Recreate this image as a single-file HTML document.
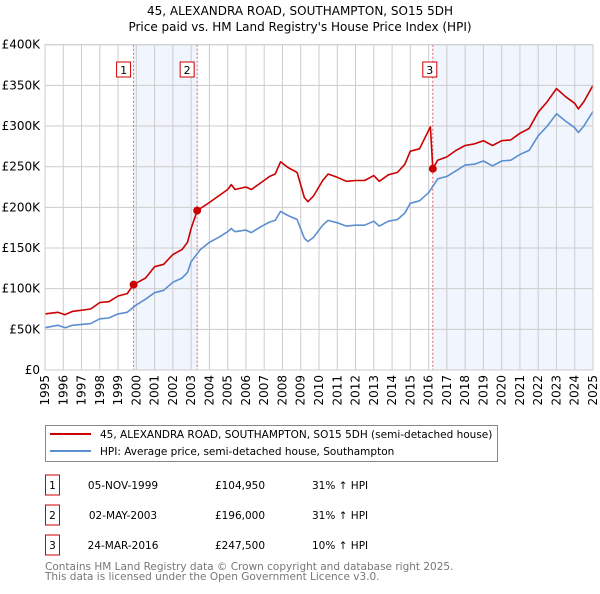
<!DOCTYPE html>
<html><head><meta charset="utf-8"><style>
body{margin:0;background:#fff;font-family:"DejaVu Sans","Liberation Sans",sans-serif;}
svg text{font-family:"DejaVu Sans","Liberation Sans",sans-serif;}
</style></head><body>
<svg id="c" width="600" height="590" viewBox="0 0 600 590" xmlns="http://www.w3.org/2000/svg">
<text x="300" y="15" text-anchor="middle" font-size="12">45, ALEXANDRA ROAD, SOUTHAMPTON, SO15 5DH</text>
<text x="300" y="31" text-anchor="middle" font-size="12">Price paid vs. HM Land Registry's House Price Index (HPI)</text>
<g id="plot"></g>
<g>
<rect x="45.5" y="425.5" width="452" height="36" fill="#fff" stroke="#888"/>
<line x1="50" y1="434" x2="91" y2="434" stroke="#cc0000" stroke-width="2"/>
<text x="100" y="438" font-size="10.5">45, ALEXANDRA ROAD, SOUTHAMPTON, SO15 5DH (semi-detached house)</text>
<line x1="50" y1="451" x2="91" y2="451" stroke="#5b8fd0" stroke-width="2"/>
<text x="100" y="455" font-size="10.5">HPI: Average price, semi-detached house, Southampton</text>
</g>
<g id="table" font-size="10.5"></g>
<text x="45" y="570" font-size="10.5" fill="#777">Contains HM Land Registry data © Crown copyright and database right 2025.</text>
<text x="45" y="580" font-size="10.5" fill="#777">This data is licensed under the Open Government Licence v3.0.</text>
</svg>
<script>
const hpiYears=[1995,1995.7,1996.1,1996.5,1997.5,1998,1998.5,1999,1999.5,2000,2000.5,2001,2001.5,2002,2002.5,2002.8,2003,2003.5,2004,2004.5,2005,2005.2,2005.4,2006,2006.3,2006.8,2007.3,2007.6,2007.9,2008.3,2008.8,2009.2,2009.4,2009.7,2010.2,2010.5,2011,2011.5,2012,2012.5,2013,2013.3,2013.8,2014.3,2014.7,2015,2015.5,2016,2016.5,2017,2017.5,2018,2018.5,2019,2019.5,2020,2020.5,2021,2021.5,2022,2022.5,2023,2023.5,2024,2024.2,2024.5,2025];
const hpiValues=[52,55,52,55,57,63,64,69,71,80,87,95,98,108,113,120,133,148,157,163,170,174,170,172,169,176,182,184,195,190,185,162,158,163,178,184,181,177,178,178,183,177,183,185,193,205,208,218,235,238,245,252,253,257,251,257,258,265,270,288,300,315,306,298,292,300,318];
const priceYears=[1995,1995.7,1996.1,1996.5,1997.5,1998,1998.5,1999,1999.5,1999.85,2000.5,2001,2001.5,2002,2002.5,2002.8,2003,2003.33,2004,2004.5,2005,2005.2,2005.4,2006,2006.3,2006.8,2007.3,2007.6,2007.9,2008.3,2008.8,2009.2,2009.4,2009.7,2010.2,2010.5,2011,2011.5,2012,2012.5,2013,2013.3,2013.8,2014.3,2014.7,2015,2015.5,2016.1,2016.23,2016.5,2017,2017.5,2018,2018.5,2019,2019.5,2020,2020.5,2021,2021.5,2022,2022.5,2023,2023.5,2024,2024.2,2024.5,2025];
const priceValues=[69,71,68,72,75,83,84,91,94,105,113,127,130,142,148,157,174,196,206,214,222,228,222,225,222,230,238,241,256,249,243,212,207,214,233,241,237,232,233,233,239,232,240,243,253,269,272,299,247.5,258,262,270,276,278,282,276,282,283,291,297,317,330,346,336,328,321,330,350];
const saleLabels=["1","2","3"];
const saleYears=[1999.85,2003.33,2016.23];
const saleValues=[104.95,196,247.5];
const saleDates=["05-NOV-1999","02-MAY-2003","24-MAR-2016"];
const salePrices=["£104,950","£196,000","£247,500"];
const saleHpi=["31% ↑ HPI","31% ↑ HPI","10% ↑ HPI"];
const yTicks=[0,50,100,150,200,250,300,350,400];
const yTickLabels=["£0","£50K","£100K","£150K","£200K","£250K","£300K","£350K","£400K"];
const xTicks=[1995,1996,1997,1998,1999,2000,2001,2002,2003,2004,2005,2006,2007,2008,2009,2010,2011,2012,2013,2014,2015,2016,2017,2018,2019,2020,2021,2022,2023,2024,2025];

const X0=45,X1=593,Y0=370,Y1=44.7;
const xs=y=>X0+(y-1995)/30*(X1-X0);
const ys=v=>Y0-v/400*(Y0-Y1);
const NS="http://www.w3.org/2000/svg";
const plot=document.getElementById('plot');
function mk(tag,attrs,parent){const e=document.createElementNS(NS,tag);for(const k in attrs)e.setAttribute(k,attrs[k]);(parent||plot).appendChild(e);return e;}
const s1=mk('rect',{x:xs(saleYears[0]),y:Y1,width:xs(saleYears[1])-xs(saleYears[0]),height:Y0-Y1,fill:'#eef3fc',opacity:0.8});


const s2=mk('rect',{x:xs(saleYears[2]),y:Y1,width:X1-xs(saleYears[2]),height:Y0-Y1,fill:'#eef3fc',opacity:0.8});


xTicks.forEach(t=>{const l=mk('line',{x1:xs(t),x2:xs(t),y1:Y1,y2:Y0,stroke:'#ccc','stroke-width':1});


const tx=mk('text',{x:0,y:0,'font-size':12,'text-anchor':'end',transform:`translate(${xs(t)+4},375) rotate(-90)`});tx.textContent=t;

});
yTicks.forEach((t,i)=>{const l=mk('line',{x1:X0,x2:X1,y1:ys(t),y2:ys(t),stroke:'#ccc','stroke-width':1});


const tx=mk('text',{x:40,y:ys(t)+4,'font-size':12,'text-anchor':'end'});tx.textContent=yTickLabels[i];

});
saleYears.forEach((y,i)=>{const l=mk('line',{x1:xs(y),x2:xs(y),y1:Y1,y2:Y0,stroke:'#e06060','stroke-dasharray':'2,2','stroke-width':1});


const bx=xs(y)-(i==2?3:10);
const r=mk('rect',{x:bx-7,y:62,width:14,height:15,fill:'#fff',stroke:'#cc0000'});


const t=mk('text',{x:bx,y:74,'font-size':11,'text-anchor':'middle'});t.textContent=saleLabels[i];

});
function path(xa,va,col,name){const d=xa.map((x,i)=>(i?'L':'M')+xs(x).toFixed(1)+','+ys(va[i]).toFixed(1)).join('');
const p=mk('path',{d:d,fill:'none',stroke:col,'stroke-width':1.6,'stroke-linejoin':'round'});

}
path(hpiYears,hpiValues,'#5b8fd0','hpi-line');
path(priceYears,priceValues,'#cc0000','price-line');
saleYears.forEach((y,i)=>{const c=mk('circle',{cx:xs(y),cy:ys(saleValues[i]),r:4,fill:'#cc0000'});

});
const ax=mk('rect',{x:X0,y:Y1,width:X1-X0,height:Y0-Y1,fill:'none',stroke:'#ccc'});


const tb=document.getElementById('table');
saleLabels.forEach((s,i)=>{const cy=485+i*30;
const r=mk('rect',{x:45.5,y:cy-10,width:14,height:20,fill:'#fff',stroke:'#cc0000'},tb);


const cols=[[52.5,s,'middle'],[123,saleDates[i],'middle'],[240,salePrices[i],'middle'],[312,saleHpi[i],'start']];
cols.forEach((c,j)=>{const t=mk('text',{x:c[0],y:cy+4,'text-anchor':c[2]},tb);t.textContent=c[1];

});});
</script>
</body></html>
